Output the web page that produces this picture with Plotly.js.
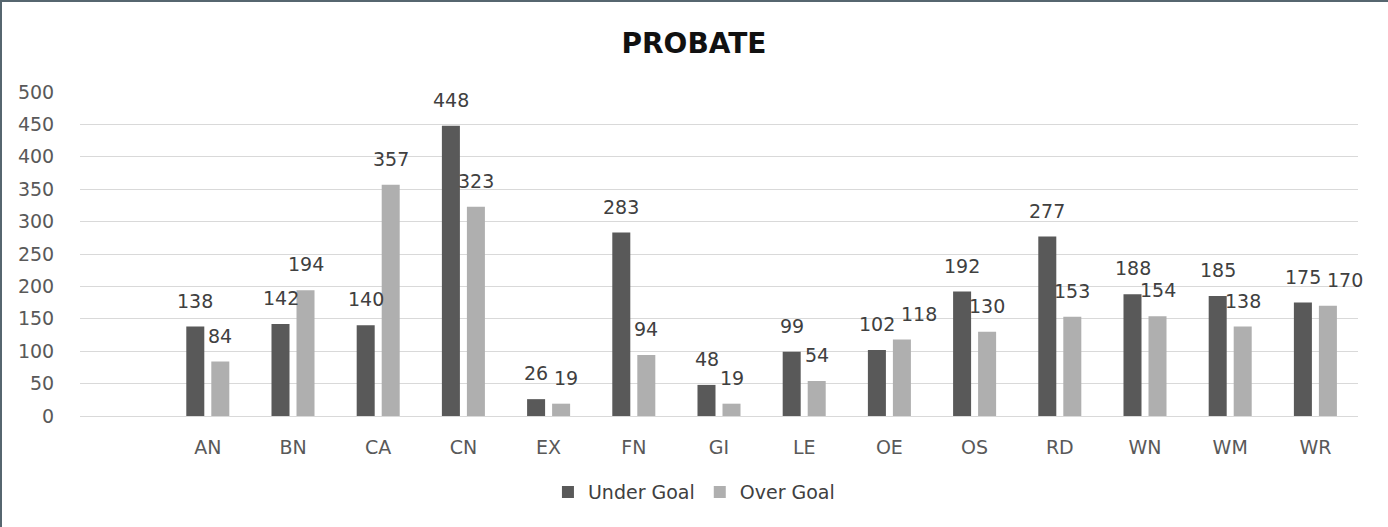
<!DOCTYPE html>
<html>
<head>
<meta charset="utf-8">
<script src="https://cdn.plot.ly/plotly-3.0.1.min.js"></script>
<style>
  html, body { margin: 0; padding: 0; background: #fff; }
  #wrap { position: relative; width: 1388px; height: 527px; overflow: hidden; }
  #chart { width: 1388px; height: 527px; }
  #frame { position: absolute; left: 0; top: 0; width: 1400px; height: 540px;
           box-sizing: border-box; border: 2px solid #56666f; pointer-events: none; }
</style>
</head>
<body>
<div id="wrap"><div id="chart"></div><div id="frame"></div></div>
<script>
const categories = ["AN","BN","CA","CN","EX","FN","GI","LE","OE","OS","RD","WN","WM","WR"];
const underGoal = [138, 142, 140, 448, 26, 283, 48, 99, 102, 192, 277, 188, 185, 175];
const overGoal  = [84, 194, 357, 323, 19, 94, 19, 54, 118, 130, 153, 154, 138, 170];
const yTicks = [0, 50, 100, 150, 200, 250, 300, 350, 400, 450, 500];

const FONT = "DejaVu Sans, Verdana, sans-serif";
const labelFont = {family: FONT, size: 19, color: "#404040"};

const traces = [
  {type: "bar", name: "Under Goal", x: categories, y: underGoal,
   marker: {color: "#595959"}, hoverinfo: "x+y"},
  {type: "bar", name: "Over Goal", x: categories, y: overGoal,
   marker: {color: "#afafaf"}, hoverinfo: "x+y"}
];

// Plot geometry used only for label collision avoidance
const plotH = 527 - 92 - 111, yMax = 500, pxPerUnit = plotH / yMax;
const digitW = 0.636 * 19, textH = 15;
const half = 12.5;

const annotations = [];
categories.forEach((c, i) => {
  const a = String(underGoal[i]), b = String(overGoal[i]);
  const wa = a.length * digitW, wb = b.length * digitW;
  const dy = Math.abs(underGoal[i] - overGoal[i]) * pxPerUnit;
  let extra = 0;
  const need = (wa + wb) / 2 + 6;
  if (dy < textH && 2 * half < need) extra = need - 2 * half;
  annotations.push({x: c, y: underGoal[i], text: a, showarrow: false,
    xshift: -half, yshift: 13, yanchor: "bottom", xanchor: "center", font: labelFont});
  annotations.push({x: c, y: overGoal[i], text: b, showarrow: false,
    xshift: half + extra, yshift: 13, yanchor: "bottom", xanchor: "center", font: labelFont});
});

const layout = {
  width: 1388, height: 527,
  margin: {l: 80, r: 30, t: 92, b: 111, autoexpand: false},
  paper_bgcolor: "#ffffff", plot_bgcolor: "#ffffff",
  title: {text: "<b>PROBATE</b>", x: 0.5, xanchor: "center", xref: "container",
          y: 1 - 43/527, yanchor: "middle",
          font: {family: "DejaVu Sans, sans-serif", size: 28, color: "#111111"}},
  barmode: "group", bargap: 0.413, bargroupgap: 0.28,
  showlegend: true,
  legend: {orientation: "h", x: 0.4804, xanchor: "center",
           y: -0.235, yanchor: "middle",
           font: {family: FONT, size: 19, color: "#404040"},
           itemwidth: 30, traceorder: "normal"},
  xaxis: {type: "category", categoryorder: "array", categoryarray: categories,
          range: [-1.5, 13.5], showgrid: false, zeroline: false, showline: false,
          ticks: "outside", ticklen: 14, tickcolor: "rgba(0,0,0,0)", tickangle: 0,
          tickfont: {family: FONT, size: 19, color: "#595959"},
          fixedrange: true},
  yaxis: {range: [0, 500], tickvals: yTicks, ticktext: yTicks.map(String),
          showgrid: true, gridcolor: "#d9d9d9", gridwidth: 1,
          zeroline: true, zerolinecolor: "#d9d9d9", zerolinewidth: 1, showline: false,
          ticks: "outside", ticklen: 21, tickcolor: "rgba(0,0,0,0)",
          tickfont: {family: FONT, size: 19, color: "#595959"},
          fixedrange: true},
  annotations: annotations
};

Plotly.newPlot("chart", traces, layout, {displayModeBar: false, staticPlot: true});
</script>
</body>
</html>
